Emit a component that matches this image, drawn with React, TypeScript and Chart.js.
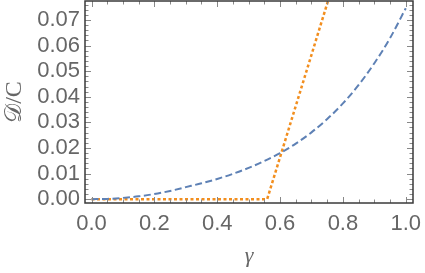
import React, { useEffect, useRef } from "react";
import { Chart, registerables } from "chart.js";

Chart.register(...registerables);

const blueX = [0, 0.05, 0.1, 0.15, 0.2, 0.25, 0.3, 0.35, 0.4, 0.45, 0.5, 0.55, 0.6, 0.65, 0.7, 0.75, 0.8, 0.85, 0.9, 0.95, 1.0];
const blueY = [0, 0.0001, 0.0005, 0.0011, 0.002, 0.0032, 0.0047, 0.0062, 0.0079, 0.0099, 0.0122, 0.0149, 0.018, 0.0217, 0.0261, 0.0313, 0.0374, 0.0446, 0.0531, 0.0629, 0.0746];

const orangeX = [0, 0.559, 0.6, 0.65, 0.7, 0.75, 0.8];
const orangeY = [0, 0, 0.0164, 0.0364, 0.0564, 0.0764, 0.0964];

const xMajorTicks = [0, 0.2, 0.4, 0.6, 0.8, 1.0];
const xMinorTicks = [0.05, 0.1, 0.15, 0.25, 0.3, 0.35, 0.45, 0.5, 0.55, 0.65, 0.7, 0.75, 0.85, 0.9, 0.95];
const yMajorTicks = [0, 0.01, 0.02, 0.03, 0.04, 0.05, 0.06, 0.07];
const yMinorTicks = [0.002, 0.004, 0.006, 0.008, 0.012, 0.014, 0.016, 0.018, 0.022, 0.024, 0.026, 0.028, 0.032, 0.034, 0.036, 0.038, 0.042, 0.044, 0.046, 0.048, 0.052, 0.054, 0.056, 0.058, 0.062, 0.064, 0.066, 0.068, 0.072, 0.074, 0.076];

const xLabels = ["0.0", "0.2", "0.4", "0.6", "0.8", "1.0"];
const yLabels = ["0.00", "0.01", "0.02", "0.03", "0.04", "0.05", "0.06", "0.07"];

const framePlugin = {
  id: "mmaFrame",
  afterDraw(chart: any) {
    const { ctx, chartArea: a, scales } = chart;
    const xs = scales.x;
    const ys = scales.y;
    ctx.save();
    ctx.strokeStyle = "#888";
    ctx.lineWidth = 1;
    const tick = (major: boolean) => (major ? 6 : 3.5);
    const drawX = (vals: number[], major: boolean) => {
      vals.forEach((v) => {
        const px = Math.round(xs.getPixelForValue(v)) + 0.5;
        ctx.beginPath();
        ctx.moveTo(px, a.bottom);
        ctx.lineTo(px, a.bottom - tick(major));
        ctx.moveTo(px, a.top);
        ctx.lineTo(px, a.top + tick(major));
        ctx.stroke();
      });
    };
    const drawY = (vals: number[], major: boolean) => {
      vals.forEach((v) => {
        const py = Math.round(ys.getPixelForValue(v)) + 0.5;
        ctx.beginPath();
        ctx.moveTo(a.left, py);
        ctx.lineTo(a.left + tick(major), py);
        ctx.moveTo(a.right, py);
        ctx.lineTo(a.right - tick(major), py);
        ctx.stroke();
      });
    };
    drawX(xMajorTicks, true);
    drawX(xMinorTicks, false);
    drawY(yMajorTicks, true);
    drawY(yMinorTicks, false);
    ctx.strokeStyle = "#3a3a3a";
    ctx.lineWidth = 1.5;
    ctx.strokeRect(a.left, a.top, a.right - a.left, a.bottom - a.top);
    ctx.restore();
  },
};

export default function App() {
  const ref = useRef<HTMLCanvasElement | null>(null);
  useEffect(() => {
    if (!ref.current) return;
    const chart = new Chart(ref.current, {
      type: "scatter",
      data: {
        datasets: [
          {
            data: blueX.map((x, i) => ({ x, y: blueY[i] })),
            showLine: true,
            borderColor: "#5E81B5",
            borderWidth: 2,
            borderDash: [7, 3.5],
            pointRadius: 0,
            cubicInterpolationMode: "monotone",
          },
          {
            data: orangeX.map((x, i) => ({ x, y: orangeY[i] })),
            showLine: true,
            borderColor: "#F28E1E",
            borderWidth: 2.5,
            borderDash: [3, 2.5],
            pointRadius: 0,
          },
        ],
      },
      options: {
        animation: false,
        responsive: true,
        maintainAspectRatio: false,
        layout: { padding: { top: 1, right: 12, left: 0, bottom: 0 } },
        plugins: { legend: { display: false }, tooltip: { enabled: false } },
        scales: {
          x: {
            type: "linear",
            min: -0.0207,
            max: 1.023,
            grid: { display: false, drawTicks: false },
            border: { display: false },
            afterBuildTicks: (s: any) => {
              s.ticks = xMajorTicks.map((v) => ({ value: v }));
            },
            afterFit: (s: any) => {
              s.height = 70;
              s.paddingLeft = 0;
              s.paddingRight = 0;
            },
            ticks: {
              padding: 8,
              color: "#666",
              autoSkip: false,
              font: { family: "Liberation Sans", size: 22 },
              callback: (_v: any, i: number) => xLabels[i],
              maxRotation: 0,
            },
            title: {
              display: true,
              text: "γ",
              color: "#666",
              font: { family: "Liberation Serif", size: 22, style: "italic" },
              padding: { top: 0, bottom: 4 },
            },
          },
          y: {
            type: "linear",
            min: -0.0015,
            max: 0.0774,
            grid: { display: false, drawTicks: false },
            border: { display: false },
            afterBuildTicks: (s: any) => {
              s.ticks = yMajorTicks.map((v) => ({ value: v }));
            },
            afterFit: (s: any) => {
              s.width = 85;
              s.paddingTop = 0;
              s.paddingBottom = 0;
            },
            ticks: {
              padding: 5,
              color: "#666",
              autoSkip: false,
              font: { family: "Liberation Sans", size: 22 },
              callback: (_v: any, i: number) => yLabels[i],
            },
            title: {
              display: true,
              text: "𝒟/C",
              color: "#666",
              font: { family: "Liberation Serif", size: 24 },
              padding: { top: 0, bottom: 0 },
            },
          },
        },
      },
      plugins: [framePlugin],
    });
    return () => chart.destroy();
  }, []);
  return (
    <div style={{ position: "fixed", left: 0, top: 0, width: 425, height: 273 }}>
      <canvas ref={ref} />
    </div>
  );
}
